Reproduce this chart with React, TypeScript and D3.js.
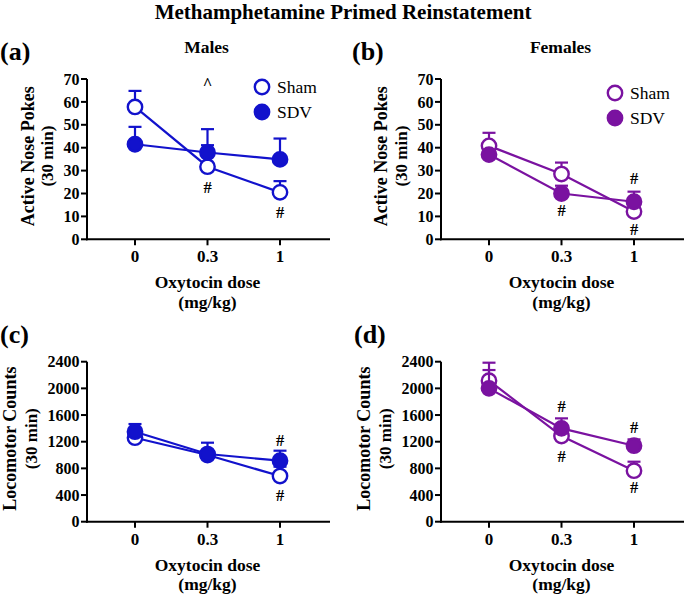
import React from "react";
import * as d3 from "d3";

// doses on the x axis (mg/kg)
const doses = ["0", "0.3", "1"];

// active nose pokes, males
const shamNoseMale = [57.8, 31.7, 20.5];
const shamNoseMaleErr = [7, 9.4, 4.9];
const sdvNoseMale = [41.5, 37.9, 34.9];
const sdvNoseMaleErr = [7.6, 10.2, 9.1];

// active nose pokes, females
const shamNoseFemale = [40.8, 28.5, 12.1];
const shamNoseFemaleErr = [5.7, 5, 2];
const sdvNoseFemale = [37, 20, 16.4];
const sdvNoseFemaleErr = [2, 3.4, 4.4];

// locomotor counts, males
const shamLocoMale = [1260, 1000, 685];
const shamLocoMaleErr = [80, 60, 140];
const sdvLocoMale = [1350, 1015, 915];
const sdvLocoMaleErr = [115, 170, 150];

// locomotor counts, females
const shamLocoFemale = [2115, 1285, 765];
const shamLocoFemaleErr = [270, 120, 135];
const sdvLocoFemale = [2000, 1400, 1140];
const sdvLocoFemaleErr = [275, 150, 95];

const noseTicks = [0, 10, 20, 30, 40, 50, 60, 70];
const locoTicks = [0, 400, 800, 1200, 1600, 2000, 2400];

// significance marks: dose index, value where the mark sits, symbol
const marksA = [{i: 1, v: 68, t: "^"}, {i: 1, v: 22.8, t: "#"}, {i: 2, v: 11.9, t: "#"}];
const marksB = [{i: 1, v: 12.8, t: "#"}, {i: 2, v: 26.7, t: "#"}, {i: 2, v: 4.5, t: "#"}];
const marksC = [{i: 2, v: 1225, t: "#"}, {i: 2, v: 400, t: "#"}];
const marksD = [{i: 1, v: 1735, t: "#"}, {i: 1, v: 985, t: "#"}, {i: 2, v: 1420, t: "#"}, {i: 2, v: 520, t: "#"}];

const BLUE = "#1212cc";
const PURPLE = "#7a12a0";
const serif = {fontFamily: "Liberation Serif"};

type Mark = {i: number; v: number; t: string};

function T(props: any) {
  const {children, ...rest} = props;
  return <text style={serif} {...rest}>{children}</text>;
}

function Panel(props: {
  left: number; top: number; bottom: number;
  letter: string; letterX: number; title?: string;
  yLabel: string; yLabelX: number; yLabel2X: number;
  ticks: number[]; color: string;
  sham: number[]; shamErr: number[]; sdv: number[]; sdvErr: number[];
  marks: Mark[]; legend?: [number, number];
}) {
  const {left, top, bottom, color, ticks} = props;
  const x = d3.scalePoint<string>().domain(doses).range([left + 48, left + 193]);
  const y = d3.scaleLinear().domain([0, ticks[ticks.length - 1]]).range([bottom, top]);
  const line = d3.line<number>().x((d, i) => x(doses[i])!).y(d => y(d));
  const midY = (top + bottom) / 2 - 3;

  const series = (vals: number[], errs: number[], filled: boolean) => (
    <g>
      <path d={line(vals)!} fill="none" stroke={color} strokeWidth={2.2} />
      {vals.map((v, i) => (
        <g key={i}>
          <line x1={x(doses[i])} x2={x(doses[i])} y1={y(v)} y2={y(v + errs[i])} stroke={color} strokeWidth={2.2} />
          <line x1={x(doses[i])! - 6.5} x2={x(doses[i])! + 6.5} y1={y(v + errs[i])} y2={y(v + errs[i])} stroke={color} strokeWidth={2.2} />
        </g>
      ))}
      {vals.map((v, i) => (
        <circle key={i} cx={x(doses[i])} cy={y(v)} r={7.2}
          fill={filled ? color : "white"} stroke={color} strokeWidth={2.4} />
      ))}
    </g>
  );

  return (
    <g>
      <T x={props.letterX} y={top - 19} fontSize={26} fontWeight="bold">{props.letter}</T>
      {props.title && (
        <T x={x("0.3")! - 1} y={top - 26} fontSize={17.5} fontWeight="bold" textAnchor="middle">{props.title}</T>
      )}
      {/* axes */}
      <line x1={left} x2={left} y1={top} y2={bottom + 1} stroke="black" strokeWidth={2} />
      <line x1={left - 1} x2={left + 243} y1={bottom} y2={bottom} stroke="black" strokeWidth={2} />
      {ticks.map(t => (
        <g key={t}>
          <line x1={left - 6} x2={left} y1={y(t)} y2={y(t)} stroke="black" strokeWidth={2} />
          <T x={left - 7.5} y={y(t)} dy="0.35em" fontSize={16} fontWeight="bold" textAnchor="end">{t}</T>
        </g>
      ))}
      {doses.map(d => (
        <g key={d}>
          <line x1={x(d)} x2={x(d)} y1={bottom} y2={bottom + 6} stroke="black" strokeWidth={2} />
          <T x={x(d)} y={bottom + 23} fontSize={17} fontWeight="bold" textAnchor="middle">{d}</T>
        </g>
      ))}
      <T x={x("0.3")} y={bottom + 49} fontSize={17.5} fontWeight="bold" textAnchor="middle">Oxytocin dose</T>
      <T x={x("0.3")} y={bottom + 68.5} fontSize={17.5} fontWeight="bold" textAnchor="middle">(mg/kg)</T>
      <T transform={`translate(${props.yLabelX},${midY}) rotate(-90)`} dy="0.35em" fontSize={18} fontWeight="bold" textAnchor="middle">{props.yLabel}</T>
      <T transform={`translate(${props.yLabel2X},${midY}) rotate(-90)`} dy="0.35em" fontSize={17} fontWeight="bold" textAnchor="middle">(30 min)</T>
      {series(props.sham, props.shamErr, false)}
      {series(props.sdv, props.sdvErr, true)}
      {props.marks.map((m, k) => (
        <T key={k} x={x(doses[m.i])} y={y(m.v)} dy="0.35em" fontSize={16.5} fontWeight="bold" textAnchor="middle">{m.t}</T>
      ))}
      {props.legend && (
        <g>
          <circle cx={props.legend[0]} cy={props.legend[1]} r={7.2} fill="white" stroke={color} strokeWidth={2.4} />
          <T x={props.legend[0] + 15} y={props.legend[1]} dy="0.35em" fontSize={17.5}>Sham</T>
          <circle cx={props.legend[0]} cy={props.legend[1] + 25} r={7.2} fill={color} stroke={color} strokeWidth={2.4} />
          <T x={props.legend[0] + 15} y={props.legend[1] + 25} dy="0.35em" fontSize={17.5}>SDV</T>
        </g>
      )}
    </g>
  );
}

export default function App() {
  return (
    <svg width={685} height={596} style={{position: "absolute", left: 0, top: 0, background: "white"}}>
      <T x={343} y={19} fontSize={21} fontWeight="bold" textAnchor="middle">
        Methamphetamine Primed Reinstatement
      </T>
      <Panel left={87} top={79} bottom={239.3} letter="(a)" letterX={0} title="Males"
        yLabel="Active Nose Pokes" yLabelX={28} yLabel2X={47} ticks={noseTicks} color={BLUE}
        sham={shamNoseMale} shamErr={shamNoseMaleErr} sdv={sdvNoseMale} sdvErr={sdvNoseMaleErr}
        marks={marksA} legend={[262, 87]} />
      <Panel left={441} top={79} bottom={239.3} letter="(b)" letterX={352} title="Females"
        yLabel="Active Nose Pokes" yLabelX={381} yLabel2X={401} ticks={noseTicks} color={PURPLE}
        sham={shamNoseFemale} shamErr={shamNoseFemaleErr} sdv={sdvNoseFemale} sdvErr={sdvNoseFemaleErr}
        marks={marksB} legend={[615, 93]} />
      <Panel left={87} top={361.7} bottom={521.7} letter="(c)" letterX={0}
        yLabel="Locomotor Counts" yLabelX={10} yLabel2X={31} ticks={locoTicks} color={BLUE}
        sham={shamLocoMale} shamErr={shamLocoMaleErr} sdv={sdvLocoMale} sdvErr={sdvLocoMaleErr}
        marks={marksC} />
      <Panel left={441} top={361.7} bottom={521.7} letter="(d)" letterX={354}
        yLabel="Locomotor Counts" yLabelX={364} yLabel2X={385} ticks={locoTicks} color={PURPLE}
        sham={shamLocoFemale} shamErr={shamLocoFemaleErr} sdv={sdvLocoFemale} sdvErr={sdvLocoFemaleErr}
        marks={marksD} />
    </svg>
  );
}
